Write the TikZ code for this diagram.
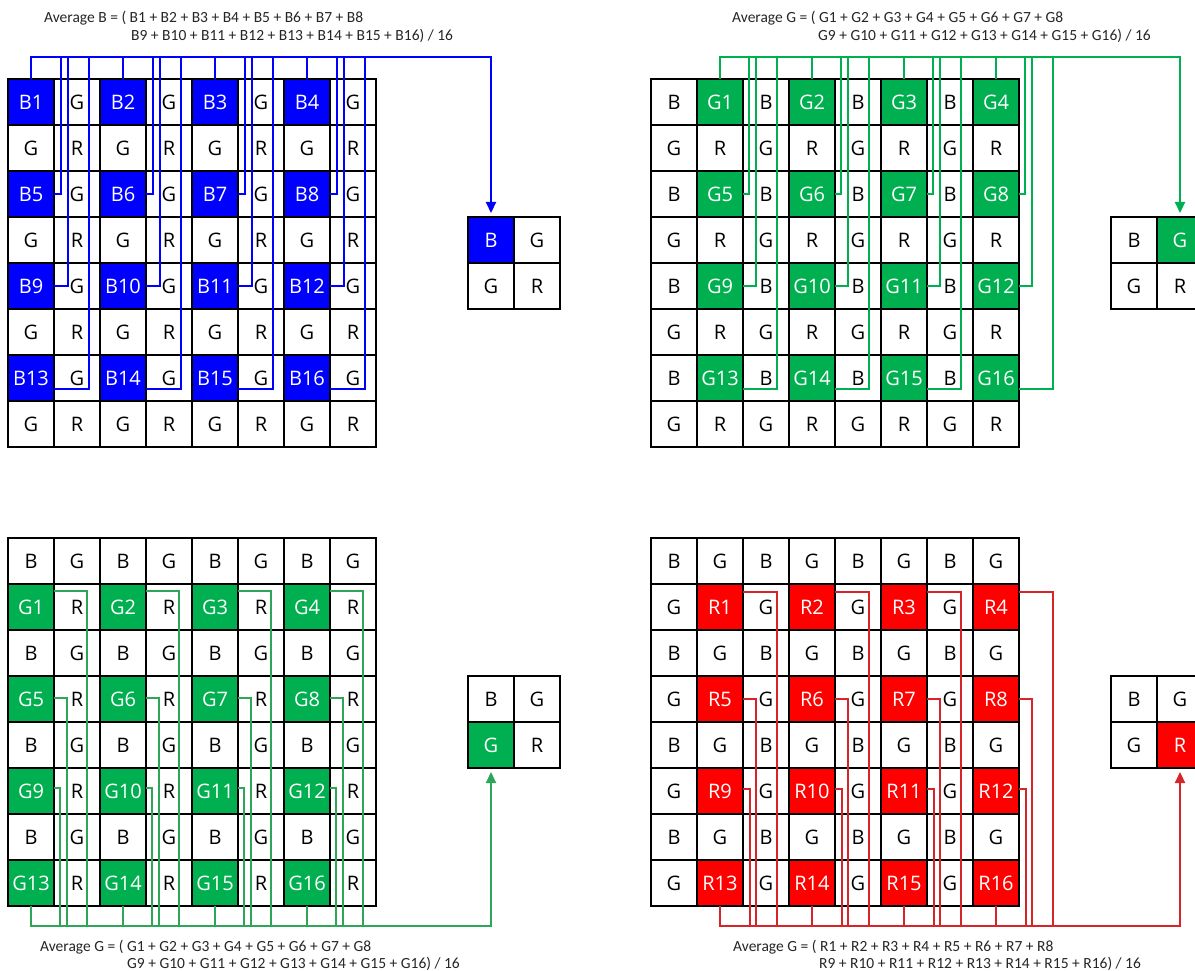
\documentclass[tikz,border=0pt]{standalone}
\usepackage{fontspec}
\setmainfont{Carlito}
\newfontfamily\cellfont{Open Sans}
\usetikzlibrary{arrows.meta}
\definecolor{cblue}{RGB}{0,0,255}
\definecolor{cgreen}{RGB}{0,176,80}
\definecolor{cred}{RGB}{255,0,0}
\definecolor{lgreen}{RGB}{0,176,80}
\definecolor{lgreenb}{RGB}{45,166,88}
\definecolor{lred}{RGB}{214,36,40}
\tikzset{
  cell/.style={draw=black, line width=2pt, minimum size=46pt, inner sep=0pt, outer sep=0pt,
    font=\cellfont\fontsize{20}{20}\selectfont, text=black},
  hl/.style={fill=#1, text=white},
  wire/.style={draw=#1, line width=2.2pt},
  tip/.style={-{Triangle[length=11pt,width=10pt]}, shorten >=4pt},
  title/.style={anchor=base west, inner sep=0pt, font=\fontsize{15.5}{15.5}\selectfont, text=black!85},
}
% #1 prefix, #2 x, #3 y, #4 row parity, #5 col parity, #6 letter, #7 colour
\newcommand{\bayergrid}[7]{%
  \foreach \rr in {0,...,7}{%
    \foreach \cc in {0,...,7}{%
      \pgfmathtruncatemacro{\rp}{mod(\rr,2)}%
      \pgfmathtruncatemacro{\cp}{mod(\cc,2)}%
      \pgfmathtruncatemacro{\nn}{div(\rr,2)*4+div(\cc,2)+1}%
      \ifnum\rp=0 \ifnum\cp=0 \def\lbl{B}\else\def\lbl{G}\fi
      \else \ifnum\cp=0 \def\lbl{G}\else\def\lbl{R}\fi\fi
      \def\ishl{0}%
      \ifnum\rp=#4 \ifnum\cp=#5 \def\ishl{1}\fi\fi
      \ifnum\ishl=1
        \node[cell, hl=#7] (#1-\rr-\cc) at ({#2+23+46*\cc},{#3+23+46*\rr}) {#6\nn};
      \else
        \node[cell] (#1-\rr-\cc) at ({#2+23+46*\cc},{#3+23+46*\rr}) {\lbl};
      \fi
    }%
  }%
}
% #1 prefix, #2 x, #3 y, #4 row, #5 col, #6 colour
\newcommand{\smallgrid}[6]{%
  \foreach \rr in {0,1}{%
    \foreach \cc in {0,1}{%
      \ifnum\rr=0 \ifnum\cc=0 \def\lbl{B}\else\def\lbl{G}\fi
      \else \ifnum\cc=0 \def\lbl{G}\else\def\lbl{R}\fi\fi
      \def\ishl{0}%
      \ifnum\rr=#4 \ifnum\cc=#5 \def\ishl{1}\fi\fi
      \ifnum\ishl=1
        \node[cell, hl=#6] (#1-\rr-\cc) at ({#2+23+46*\cc},{#3+23+46*\rr}) {\lbl};
      \else
        \node[cell] (#1-\rr-\cc) at ({#2+23+46*\cc},{#3+23+46*\rr}) {\lbl};
      \fi
    }%
  }%
}
\begin{document}
\begin{tikzpicture}[x=1pt, y=-1pt]
\clip (0,0) rectangle (1195,971);
\fill[white] (0,0) rectangle (1195,971);

% grids
\bayergrid{a}{8}{79}{0}{0}{B}{cblue}
\bayergrid{b}{651}{79}{0}{1}{G}{cgreen}
\bayergrid{c}{8}{538}{1}{0}{G}{cgreen}
\bayergrid{d}{651}{538}{1}{1}{R}{cred}
\smallgrid{as}{468}{217}{0}{0}{cblue}
\smallgrid{bs}{1111}{217}{0}{1}{cgreen}
\smallgrid{cs}{468}{676}{1}{0}{cgreen}
\smallgrid{ds}{1111}{676}{1}{1}{cred}

% titles
\node[title] (ta1) at (44,23) {Average B = ( B1 + B2 + B3 + B4 + B5 + B6 + B7 + B8};
\node[title] (ta2) at (131,41) {B9 + B10 + B11 + B12 + B13 + B14 + B15 + B16) / 16};
\node[title] (tb1) at (732,23) {Average G = ( G1 + G2 + G3 + G4 + G5 + G6 + G7 + G8};
\node[title] (tb2) at (818,41) {G9 + G10 + G11 + G12 + G13 + G14 + G15 + G16) / 16};
\node[title] (tc1) at (40,951) {Average G = ( G1 + G2 + G3 + G4 + G5 + G6 + G7 + G8};
\node[title] (tc2) at (127,968) {G9 + G10 + G11 + G12 + G13 + G14 + G15 + G16) / 16};
\node[title] (td1) at (733,951) {Average G = ( R1 + R2 + R3 + R4 + R5 + R6 + R7 + R8};
\node[title] (td2) at (819,968) {R9 + R10 + R11 + R12 + R13 + R14 + R15 + R16) / 16};

% blue wiring (top-left)
\draw[wire=cblue, tip] (a-0-0.north) -- ++(0,-22) coordinate (abus) -| (as-0-0.north);
\foreach \cc in {0,2,4,6}{
  \draw[wire=cblue] (a-0-\cc.north) -- (a-0-\cc.north |- abus);
  \draw[wire=cblue] (a-2-\cc.east) -- ++(7,0) coordinate (t) -- (t |- abus);
  \draw[wire=cblue] (a-4-\cc.east) -- ++(14,0) coordinate (t) -- (t |- abus);
  \draw[wire=cblue] ([yshift=-11pt]a-6-\cc.east) -- ++(35,0) coordinate (t) -- (t |- abus);
}

% green wiring (top-right)
\draw[wire=lgreen, tip] (b-0-1.north) -- ++(0,-22) coordinate (bbus) -| (bs-0-1.north);
\foreach \cc in {1,3,5,7}{
  \draw[wire=lgreen] (b-0-\cc.north) -- (b-0-\cc.north |- bbus);
  \draw[wire=lgreen] (b-2-\cc.east) -- ++(6,0) coordinate (t) -- (t |- bbus);
  \draw[wire=lgreen] (b-4-\cc.east) -- ++(13,0) coordinate (t) -- (t |- bbus);
  \draw[wire=lgreen] ([yshift=-11pt]b-6-\cc.east) -- ++(34,0) coordinate (t) -- (t |- bbus);
}

% green wiring (bottom-left)
\draw[wire=lgreenb, tip] (c-7-0.south) -- ++(0,20) coordinate (cbus) -| (cs-1-0.south);
\foreach \cc in {0,2,4,6}{
  \draw[wire=lgreenb] (c-7-\cc.south) -- (c-7-\cc.south |- cbus);
  \draw[wire=lgreenb] ([yshift=16pt]c-1-\cc.east) -- ++(33,0) coordinate (t) -- (t |- cbus);
  \draw[wire=lgreenb] ([yshift=1pt]c-3-\cc.east) -- ++(13,0) coordinate (t) -- (t |- cbus);
  \draw[wire=lgreenb] ([yshift=3pt]c-5-\cc.east) -- ++(6,0) coordinate (t) -- (t |- cbus);
}

% red wiring (bottom-right)
\draw[wire=lred, tip] (d-7-1.south) -- ++(0,20) coordinate (dbus) -| (ds-1-1.south);
\foreach \cc in {1,3,5,7}{
  \draw[wire=lred] (d-7-\cc.south) -- (d-7-\cc.south |- dbus);
  \draw[wire=lred] ([yshift=15pt]d-1-\cc.east) -- ++(34,0) coordinate (t) -- (t |- dbus);
  \draw[wire=lred] (d-3-\cc.east) -- ++(13,0) coordinate (t) -- (t |- dbus);
  \draw[wire=lred] ([yshift=2pt]d-5-\cc.east) -- ++(7,0) coordinate (t) -- (t |- dbus);
}
\end{tikzpicture}
\end{document}
